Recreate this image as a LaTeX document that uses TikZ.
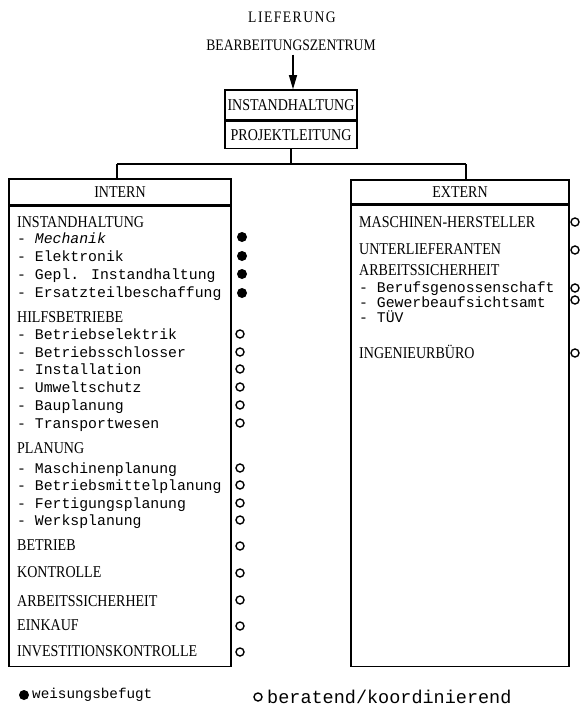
\documentclass[tikz,border=0pt]{standalone}
\usepackage{fontspec}
\setmainfont{Liberation Serif}
\newfontfamily\capsfont[FakeStretch=0.85]{Liberation Serif}
\newfontfamily\typefont{Liberation Mono}
\usetikzlibrary{arrows.meta}

\tikzset{
  head/.style={font=\capsfont\fontsize{16.5}{18}\selectfont, inner sep=0pt, anchor=base west},
  entry/.style={font=\typefont\fontsize{14.8}{16}\selectfont, inner sep=0pt, anchor=base west},
  title/.style={font=\capsfont\fontsize{16}{18}\selectfont, inner sep=0pt},
  frame/.style={draw, line width=1.6pt, inner sep=0pt, font=\capsfont\fontsize{16.5}{18}\selectfont},
  link/.style={line width=1.2pt},
  ruling/.style={circle, fill, minimum size=10pt, inner sep=0pt},
  advising/.style={circle, draw, line width=1.4pt, minimum size=8pt, inner sep=0pt},
}

\begin{document}
\begin{tikzpicture}[x=1pt, y=-1pt]
\useasboundingbox (0,0) rectangle (583,707);

% heading above the chart
\node[title] (lief) at (292,17) {L\kern1.5pt I\kern1.5pt E\kern1.5pt F\kern1.5pt E\kern1.5pt R\kern1.5pt U\kern1.5pt N\kern1.5pt G};
\node[title] (bz) at (291,45) {BEARBEITUNGSZENTRUM};

% top box
\node[frame, minimum width=132pt, minimum height=30pt] (ih) at (291,105) {INSTANDHALTUNG};
\node[frame, minimum width=132pt, minimum height=27pt, anchor=north] (pl) at (ih.south) {PROJEKTLEITUNG};
\draw[link, -{Triangle[width=8pt,length=14pt]}] (bz.south) ++(2,4) coordinate (arrtail) -- (arrtail |- ih.north);

% intern / extern boxes
\node[frame, minimum width=222pt, minimum height=26pt] (intern) at (120,192) {INTERN};
\node[frame, minimum width=222pt, minimum height=460pt, anchor=north] (internbody) at (intern.south) {};
\node[frame, minimum width=218pt, minimum height=24pt] (extern) at (460,192) {EXTERN};
\node[frame, minimum width=218pt, minimum height=461pt, anchor=north] (externbody) at (extern.south) {};

% branching connector
\coordinate (bus) at (pl.south |- 0,164);
\coordinate (busl) at (117,164);
\coordinate (busr) at (466,164);
\draw[link] (pl.south) -- (bus);
\draw[link] (busl) -- (busr);
\draw[link] (busl) -- (busl |- intern.north);
\draw[link] (busr) -- (busr |- extern.north);

% intern entries
\node[head]  (i1)  at (17,227) {INSTANDHALTUNG};
\node[entry] (i2)  at (17,243) {- \itshape Mechanik};
\node[entry] (i3)  at (17,261) {- Elektronik};
\node[entry] (i4)  at (17,279) {- Gepl. Instandhaltung};
\node[entry] (i5)  at (17,297) {- Ersatzteilbeschaffung};
\node[head]  (i6)  at (17,322) {HILFSBETRIEBE};
\node[entry] (i7)  at (17,339) {- Betriebselektrik};
\node[entry] (i8)  at (17,357) {- Betriebsschlosser};
\node[entry] (i9)  at (17,374) {- Installation};
\node[entry] (i10) at (17,392) {- Umweltschutz};
\node[entry] (i11) at (17,410) {- Bauplanung};
\node[entry] (i12) at (17,428) {- Transportwesen};
\node[head]  (i13) at (17,453) {PLANUNG};
\node[entry] (i14) at (17,473) {- Maschinenplanung};
\node[entry] (i15) at (17,490) {- Betriebsmittelplanung};
\node[entry] (i16) at (17,508) {- Fertigungsplanung};
\node[entry] (i17) at (17,525) {- Werksplanung};
\node[head]  (i18) at (17,550) {BETRIEB};
\node[head]  (i19) at (17,577) {KONTROLLE};
\node[head]  (i20) at (17,606) {ARBEITSSICHERHEIT};
\node[head]  (i21) at (17,630) {EINKAUF};
\node[head]  (i22) at (17,656) {INVESTITIONSKONTROLLE};

% intern markers
\node[ruling] (mi2) at (242,237) {};
\node[ruling] (mi3) at (242,256) {};
\node[ruling] (mi4) at (242,274) {};
\node[ruling] (mi5) at (242,293) {};
\foreach \n/\y in {7/334, 8/352, 9/369, 10/387, 11/405, 12/423,
                   14/468, 15/485, 16/503, 17/520,
                   18/546, 19/573, 20/600, 21/626, 22/652}
  \node[advising] (mi\n) at (240,\y) {};

% extern entries
\node[head]  (e1) at (359,227) {MASCHINEN-HERSTELLER};
\node[head]  (e2) at (359,254) {UNTERLIEFERANTEN};
\node[head]  (e3) at (359,275) {ARBEITSSICHERHEIT};
\node[entry] (e4) at (359,292) {- Berufsgenossenschaft};
\node[entry] (e5) at (359,307) {- Gewerbeaufsichtsamt};
\node[entry] (e6) at (359,322) {- T\"UV};
\node[head]  (e7) at (359,358) {INGENIEURB\"URO};

% extern markers
\foreach \n/\y in {1/222, 2/250, 4/288, 5/300, 7/353}
  \node[advising] (me\n) at (575,\y) {};

% legend
\node[ruling] (lr) at (24,695) {};
\node[entry, anchor=west, font=\typefont\fontsize{14.3}{16}\selectfont] (lrt) at (32,695) {weisungsbefugt};
\node[advising] (la) at (258,697) {};
\node[entry, anchor=west, font=\typefont\fontsize{18.5}{20}\selectfont] (lat) at (267,697) {beratend/koordinierend};
\end{tikzpicture}
\end{document}
